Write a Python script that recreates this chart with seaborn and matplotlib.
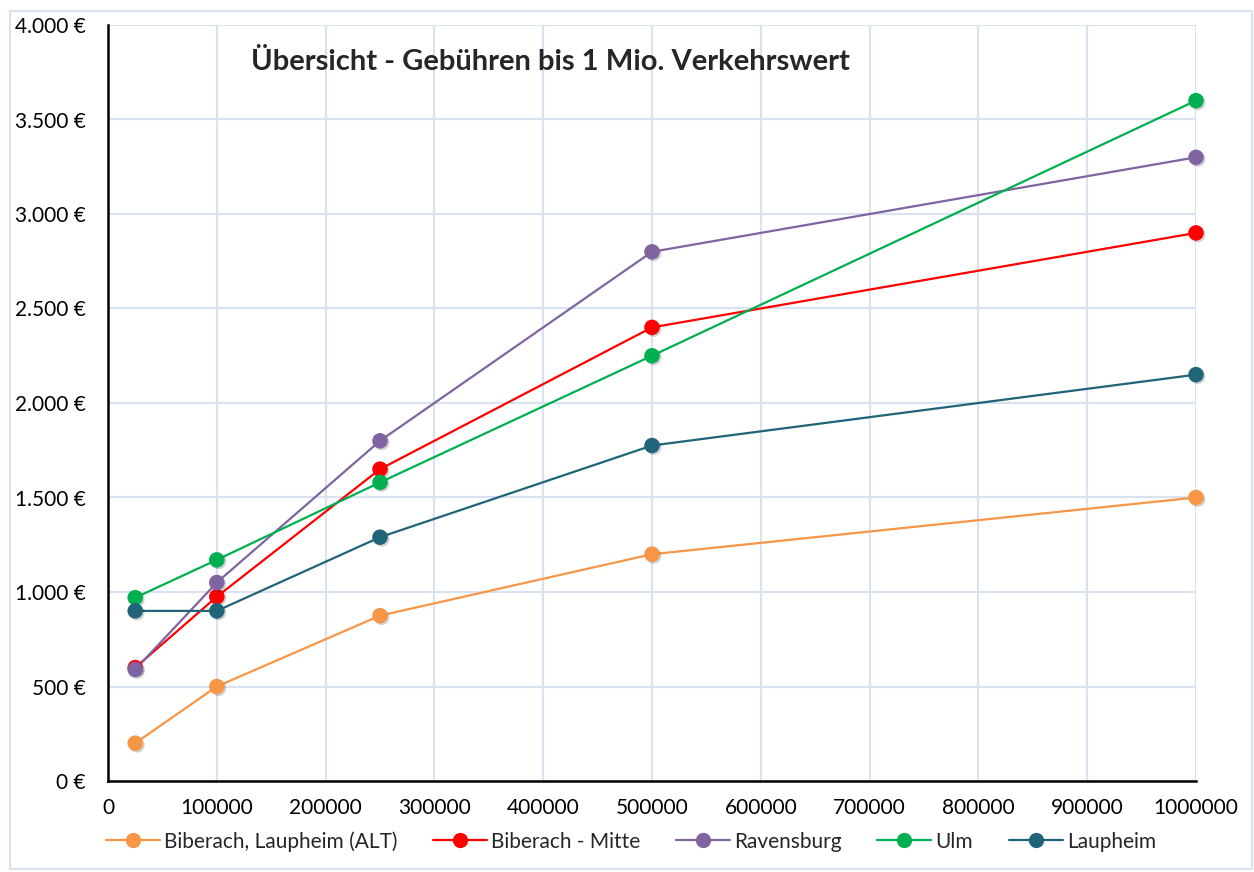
import numpy as np
import pandas as pd
import matplotlib
matplotlib.use("Agg")
import matplotlib.pyplot as plt
import matplotlib.patheffects as pe
from matplotlib.lines import Line2D
from matplotlib.patches import Rectangle
from matplotlib.ticker import FuncFormatter, MultipleLocator
import seaborn as sns

# ---------------- Data ----------------
verkehrswert = [25000, 100000, 250000, 500000, 1000000]

serien = [
    "Biberach, Laupheim (ALT)",
    "Biberach - Mitte",
    "Ravensburg",
    "Ulm",
    "Laupheim",
]

biberach_alt = [200, 500, 875, 1200, 1500]
biberach_mitte = [600, 975, 1650, 2400, 2900]
ravensburg = [590, 1050, 1800, 2800, 3300]
ulm = [970, 1170, 1580, 2250, 3600]
laupheim = [900, 900, 1290, 1775, 2150]

farben = ["#F79646", "#FF0000", "#8064A2", "#00B050", "#1F6478"]

df = pd.concat(
    [
        pd.DataFrame({"Verkehrswert": verkehrswert, "Gebuehr": werte, "Ort": name})
        for name, werte in zip(
            serien, [biberach_alt, biberach_mitte, ravensburg, ulm, laupheim]
        )
    ],
    ignore_index=True,
)

palette = dict(zip(serien, farben))

# ---------------- Setup ----------------
sns.set_style("white")
plt.rcParams["font.family"] = ["Lato", "DejaVu Sans"]

fig = plt.figure(figsize=(12.54, 8.72), dpi=100)
ax = fig.add_axes([108 / 1254, 91 / 872, 1088 / 1254, 756 / 872])

# each series: line, then markers with a soft shadow
for name in serien:
    sub = df[df["Ort"] == name]
    sns.lineplot(
        data=sub,
        x="Verkehrswert",
        y="Gebuehr",
        color=palette[name],
        linewidth=1.6,
        ax=ax,
    )
    pts = ax.scatter(
        sub["Verkehrswert"],
        sub["Gebuehr"],
        s=125,
        color=palette[name],
        linewidths=0,
        zorder=3,
        clip_on=False,
    )
    pts.set_path_effects(
        [pe.SimplePatchShadow(offset=(1.2, -1.2), alpha=0.18, shadow_rgbFace="black"), pe.Normal()]
    )

ax.set_xlim(0, 1000000)
ax.set_ylim(0, 4000)
ax.xaxis.set_major_locator(MultipleLocator(100000))
ax.yaxis.set_major_locator(MultipleLocator(500))
ax.xaxis.set_major_formatter(FuncFormatter(lambda v, p: f"{int(v)}"))
ax.yaxis.set_major_formatter(
    FuncFormatter(lambda v, p: f"{int(v):,}".replace(",", ".") + " €")
)

ax.grid(True, color="#D9E2F0", linewidth=1.5)
ax.set_axisbelow(True)
for s in ["top", "right"]:
    ax.spines[s].set_visible(False)
for s in ["left", "bottom"]:
    ax.spines[s].set_color("black")
    ax.spines[s].set_linewidth(1.8)

ax.tick_params(axis="both", length=0, labelsize=15, colors="black")
ax.tick_params(axis="y", pad=16)
ax.tick_params(axis="x", pad=12)
ax.set_xlabel("")
ax.set_ylabel("")

ax.text(
    0.407,
    0.951,
    "Übersicht - Gebühren bis 1 Mio. Verkehrswert",
    transform=ax.transAxes,
    ha="center",
    va="center",
    fontsize=21,
    fontweight="bold",
)

handles = [
    Line2D([], [], color=c, linewidth=1.6, marker="o", markersize=11, markeredgewidth=0)
    for c in farben
]
fig.legend(
    handles,
    serien,
    loc="center",
    bbox_to_anchor=(0.503, 0.035),
    ncol=5,
    frameon=False,
    fontsize=15,
    handlelength=2.6,
    handletextpad=0.2,
    columnspacing=1.7,
)

fig.patches.append(
    Rectangle(
        (10 / 1254, 3 / 872),
        1242 / 1254,
        858 / 872,
        transform=fig.transFigure,
        fill=False,
        edgecolor="#D9E2F0",
        linewidth=1.5,
    )
)

fig.savefig("out.png", dpi=100)
